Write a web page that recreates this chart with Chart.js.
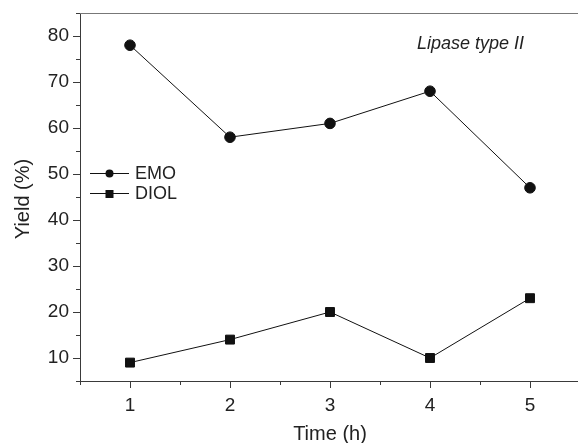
<!DOCTYPE html>
<html>
<head>
<meta charset="utf-8">
<script src="https://cdn.jsdelivr.net/npm/chart.js@4/dist/chart.umd.min.js"></script>
<style>
html,body{margin:0;padding:0;background:#fff;overflow:hidden;width:578px;height:443px;}
#wrap{width:580px;height:443px;}
</style>
</head>
<body>
<div id="wrap"><canvas id="c" width="580" height="443"></canvas></div>
<script>
const times = [1, 2, 3, 4, 5];
const emo = [78, 58, 61, 68, 47];
const diol = [9, 14, 20, 10, 23];
const xTickLabels = ['1', '2', '3', '4', '5'];
const yTickLabels = ['10', '20', '30', '40', '50', '60', '70', '80'];
const seriesNames = ['EMO', 'DIOL'];
const xTitle = 'Time (h)';
const yTitle = 'Yield (%)';
const annotationText = 'Lipase type II';

const FONT = "'Liberation Sans', Arial, sans-serif";
const AXIS = '#3a3a3a';
const TXT = '#222';

const ticksPlugin = {
  id: 'customTicks',
  afterDraw(chart) {
    const ctx = chart.ctx;
    const xs = chart.scales.x, ys = chart.scales.y;
    const ca = chart.chartArea;
    ctx.save();
    ctx.lineWidth = 1;
    // top frame line
    ctx.strokeStyle = '#777';
    ctx.beginPath();
    ctx.moveTo(ca.left, ca.top + 0.5);
    ctx.lineTo(ca.right, ca.top + 0.5);
    ctx.stroke();
    ctx.strokeStyle = AXIS;
    // x ticks
    for (let v = 0.5; v <= 5.5; v += 0.5) {
      const px = Math.round(xs.getPixelForValue(v)) + 0.5;
      const major = Number.isInteger(v);
      ctx.beginPath();
      ctx.moveTo(px, ca.bottom);
      ctx.lineTo(px, ca.bottom + (major ? 7 : 4));
      ctx.stroke();
    }
    // y ticks
    for (let v = 5; v <= 85; v += 5) {
      const py = Math.round(ys.getPixelForValue(v)) + 0.5;
      const major = v % 10 === 0;
      ctx.beginPath();
      ctx.moveTo(ca.left, py);
      ctx.lineTo(ca.left - (major ? 7 : 4), py);
      ctx.stroke();
    }
    // axis titles
    ctx.fillStyle = TXT;
    ctx.font = "20px " + FONT;
    ctx.textBaseline = 'middle';
    ctx.textAlign = 'center';
    ctx.fillText(xTitle, (xs.getPixelForValue(3)), 434);
    ctx.save();
    ctx.translate(23, (ys.getPixelForValue(45)) + 2);
    ctx.rotate(-Math.PI / 2);
    ctx.fillText(yTitle, 0, 0);
    ctx.restore();
    // annotation
    ctx.font = "italic 18px " + FONT;
    ctx.textAlign = 'left';
    ctx.fillText(annotationText, 417, 44);
    // legend
    const ds = chart.data.datasets;
    const rows = [173, 193];
    ds.forEach((d, i) => {
      const y = rows[i] + 0.5;
      ctx.strokeStyle = '#111';
      ctx.lineWidth = 1;
      ctx.beginPath();
      ctx.moveTo(90, y);
      ctx.lineTo(129, y);
      ctx.stroke();
      ctx.fillStyle = '#111';
      if (d.pointStyle === 'circle') {
        ctx.beginPath();
        ctx.arc(109.5, y, 4, 0, Math.PI * 2);
        ctx.fill();
      } else {
        ctx.fillRect(105.5, y - 3.5, 8, 8);
      }
      ctx.fillStyle = TXT;
      ctx.font = "18px " + FONT;
      ctx.textBaseline = 'middle';
      ctx.textAlign = 'left';
      ctx.fillText(d.label, 135, y + 1);
    });
    ctx.restore();
  }
};

new Chart(document.getElementById('c'), {
  type: 'line',
  data: {
    datasets: [
      {
        label: seriesNames[0],
        data: times.map((t, i) => ({x: t, y: emo[i]})),
        borderColor: '#111',
        backgroundColor: '#111',
        borderWidth: 1,
        pointStyle: 'circle',
        pointRadius: 5.3,
        pointHoverRadius: 5.3,
        tension: 0
      },
      {
        label: seriesNames[1],
        data: times.map((t, i) => ({x: t, y: diol[i]})),
        borderColor: '#111',
        backgroundColor: '#111',
        borderWidth: 1,
        pointStyle: 'rect',
        pointRadius: 6.3,
        pointHoverRadius: 6.3,
        tension: 0
      }
    ]
  },
  options: {
    responsive: false,
    animation: false,
    events: [],
    layout: {autoPadding: false, padding: {top: 13, left: 0, right: 0, bottom: 0}},
    plugins: {legend: {display: false}, tooltip: {enabled: false}},
    scales: {
      x: {
        type: 'linear',
        min: 0.5,
        max: 5.5,
        afterFit(s) { s.height = 62; s.paddingLeft = 0; s.paddingRight = 0; },
        afterBuildTicks(s) { s.ticks = times.map(v => ({value: v})); },
        grid: {display: false, drawTicks: false},
        border: {display: true, color: AXIS, width: 1},
        ticks: {
          padding: 13,
          color: TXT,
          font: {family: FONT, size: 19},
          callback: (v, i) => xTickLabels[i]
        },
        title: {display: false}
      },
      y: {
        type: 'linear',
        min: 5,
        max: 85,
        afterFit(s) { s.width = 80; s.paddingTop = 0; s.paddingBottom = 0; },
        afterBuildTicks(s) { s.ticks = yTickLabels.map(v => ({value: Number(v)})); },
        grid: {display: false, drawTicks: false},
        border: {display: true, color: AXIS, width: 1},
        ticks: {
          padding: 11,
          color: TXT,
          font: {family: FONT, size: 19},
          callback: (v, i) => yTickLabels[i]
        },
        title: {display: false}
      }
    }
  },
  plugins: [ticksPlugin]
});
</script>
</body>
</html>
